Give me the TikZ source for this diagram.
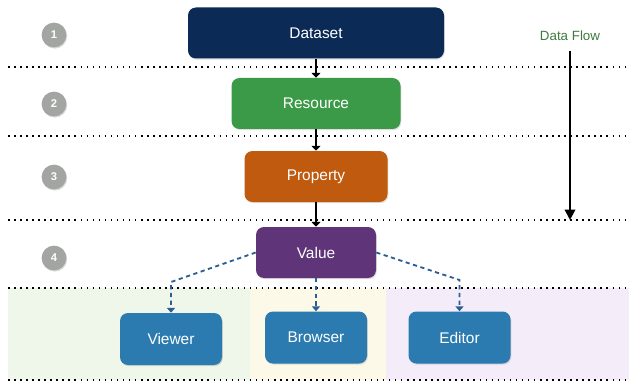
\documentclass[tikz,border=0pt]{standalone}
\usepackage{fontspec}
\setmainfont{Liberation Sans}
\usepackage{tikz}
\usetikzlibrary{arrows.meta}
\usetikzlibrary{shadows}
\definecolor{dscol}{HTML}{0B2A55}
\definecolor{rescol}{HTML}{3B9A47}
\definecolor{propcol}{HTML}{BF5A0E}
\definecolor{valcol}{HTML}{5F3479}
\definecolor{appcol}{HTML}{2B7BB0}
\definecolor{numcol}{HTML}{A3A5A3}
\definecolor{flowcol}{HTML}{3E7A3E}
\definecolor{linkcol}{HTML}{2A5F95}
\definecolor{bandA}{HTML}{EFF6EA}
\definecolor{bandB}{HTML}{FDF9E9}
\definecolor{bandC}{HTML}{F4ECF9}
\tikzset{
box/.style={rectangle,rounded corners=0.2cm,draw=none,align=center,text=white,minimum height=1.275cm,anchor=center,
  font=\fontsize{11}{13}\selectfont,drop shadow={opacity=0.25,shadow xshift=0.02cm,shadow yshift=-0.03cm}},
dsbox/.style={box,fill=dscol,minimum width=6.4cm},
resbox/.style={box,fill=rescol,minimum width=4.225cm},
propbox/.style={box,fill=propcol,minimum width=3.575cm},
valbox/.style={box,fill=valcol,minimum width=3.0cm},
appbox/.style={box,fill=appcol,minimum width=2.55cm,minimum height=1.3cm},
num/.style={circle,fill=numcol,text=white,inner sep=0cm,minimum size=0.62cm,font=\bfseries\fontsize{8}{9}\selectfont,
  drop shadow={opacity=0.3,shadow xshift=0.02cm,shadow yshift=-0.03cm}},
sep/.style={black,line width=1.1pt,dash pattern=on 1.1pt off 3.2pt},
link/.style={black,line width=1.5pt,-{Triangle[length=1.2mm,width=2.2mm]}},
uses/.style={linkcol,line width=1.3pt,dash pattern=on 3pt off 2.5pt,-{Triangle[length=1.2mm,width=2mm]}}
}
\begin{document}
\begin{tikzpicture}
    \useasboundingbox (0,0) rectangle (15.725,9.575);
    % bands of the last layer
    \fill[bandA] (0.2,0.075) rectangle (6.25,2.375);
    \fill[bandB] (6.25,0.075) rectangle (9.65,2.375);
    \fill[bandC] (9.65,0.075) rectangle (15.725,2.375);
    %
    \foreach \y in {7.9,6.175,4.075,2.375,0.075}
    \draw[sep] (0.2,\y) -- (15.725,\y);
    %
    \foreach \i/\y in {1/8.7,2/6.975,3/5.15,4/3.125}
    \node[num](n\i) at (1.35,\y) {\i};
    %
    \node[dsbox](ds) at (7.9,8.75) {Dataset};
    \node[resbox](res) at (7.9,6.9875) {Resource};
    \node[propbox](prop) at (7.9,5.1625) {Property};
    \node[valbox](val) at (7.9,3.2625) {Value};
    \node[appbox](view) at (4.275,1.1) {Viewer};
    \node[appbox](brow) at (7.9,1.1375) {Browser};
    \node[appbox](edit) at (11.4875,1.1375) {Editor};
    %
    \foreach \u / \v in {ds/res,res/prop,prop/val}
    \draw[link] (\u) -- (\v);
    %
    \coordinate (vk) at (4.275,2.525);
    \coordinate (ek) at (11.4875,2.575);
    \draw[uses] (val.west) -- (vk) -- (view.north);
    \draw[uses] (val.south) -- (brow.north);
    \draw[uses] (val.east) -- (ek) -- (edit.north);
    %
    \node[text=flowcol,font=\fontsize{9.5}{11}\selectfont](flow) at (14.25,8.675) {Data Flow};
    \coordinate (fend) at (14.25,4.075);
    \draw[black,line width=1.5pt,-{Triangle[length=2.6mm,width=2.6mm]}]
    (flow.south) ++(0,-0.12) -- (fend);
  \end{tikzpicture}
\end{document}
